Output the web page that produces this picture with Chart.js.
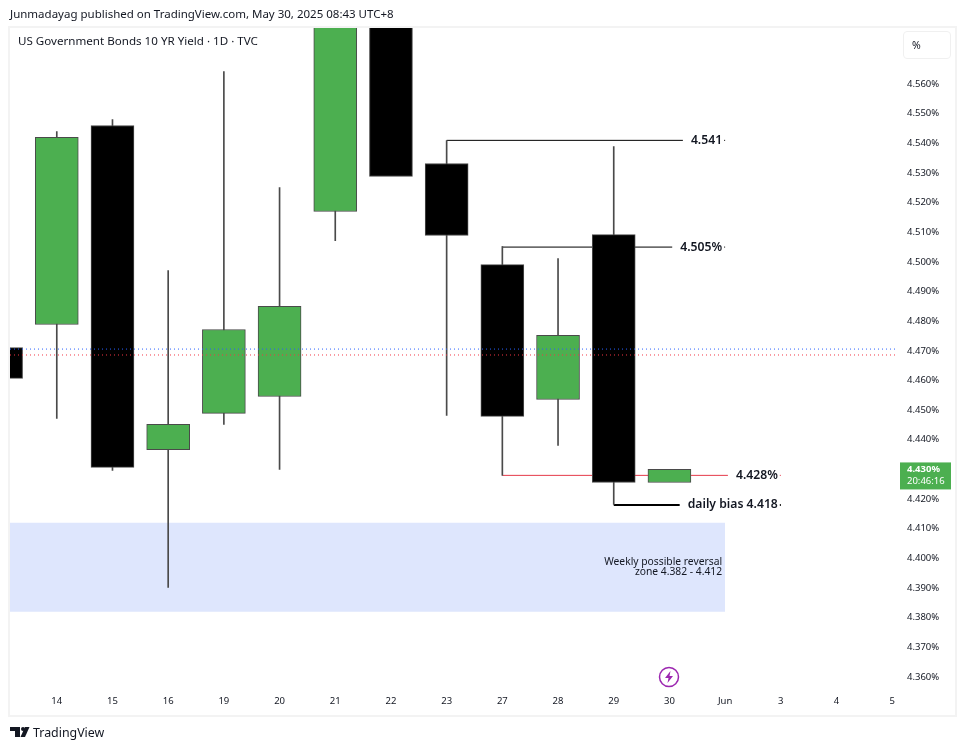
<!DOCTYPE html>
<html lang="en">
<head>
  <meta charset="UTF-8">
  <title>US Government Bonds 10 YR Yield</title>
  <style>
    body { margin: 0; background: #fff; color: #131722; font-family: 'Noto Sans', sans-serif; }
    #page { position: relative; width: 965px; height: 750px; overflow: hidden; }
    #panel { position: absolute; left: 8px; top: 26px; width: 945px; height: 687px; border: 2px solid #f3f3f3; }
    canvas { position: absolute; left: 0; top: 0; }
    .note { position: absolute; white-space: nowrap; }
    #published { left: 10px; top: 6px; font-size: 11.5px; }
    #title { left: 18px; top: 33px; font-size: 11.6px; }
    #unit { position: absolute; left: 903px; top: 31px; width: 46px; height: 26px; border: 1px solid #f0f0f0; border-radius: 4px; font-size: 10.5px; line-height: 26px; text-indent: 8px; }
    #brand { left: 33px; top: 724px; font-size: 12.4px; }
    #logo { position: absolute; left: 10px; top: 726px; }
    #bolt { position: absolute; left: 658px; top: 666px; }
  </style>
  <script src="https://cdn.jsdelivr.net/npm/chart.js"></script>
</head>
<body>
  <div id="page">
    <div id="panel"></div>
    <canvas id="yieldChart" width="965" height="750"></canvas>
    <div class="note" id="published">Junmadayag published on TradingView.com, May 30, 2025 08:43 UTC+8</div>
    <div class="note" id="title">US Government Bonds 10 YR Yield · 1D · TVC</div>
    <div id="unit">%</div>
    <svg id="bolt" width="22" height="22" viewBox="0 0 22 22">
      <circle cx="11" cy="11" r="9.5" fill="#fff" stroke="#9c27b0" stroke-width="1.5"/>
      <path d="M12.5 5 L7 12 H10.5 L9.5 17 L15 10 H11.5 Z" fill="#9c27b0"/>
    </svg>
    <svg id="logo" width="20" height="12" viewBox="0 0 20 12">
      <path d="M0 1 H10 V11 H5 V5 H0 Z" fill="#131722"/>
      <circle cx="13" cy="3" r="2" fill="#131722"/>
      <path d="M15 1 H19.5 L15 11 H10.5 Z" fill="#131722"/>
    </svg>
    <div class="note" id="brand">TradingView</div>
  </div>

  <script>
    // Index 0 is the 13th, cut off by the left edge of the panel
    const dayLabels = ['13', '14', '15', '16', '19', '20', '21', '22', '23', '27', '28', '29', '30', 'Jun', '3', '4', '5'];

    const opens =  [4.4711, 4.4789, 4.5460, 4.4367, 4.4489, 4.4546, 4.5170, 4.6100, 4.5332, 4.4991, 4.4536, 4.5092, 4.4256];
    const highs =  [4.4705, 4.5440, 4.5480, 4.4971, 4.5642, 4.5251, 4.6100, 4.6100, 4.5409, 4.5052, 4.5011, 4.5389, 4.4295];
    const lows =   [4.4612, 4.4472, 4.4297, 4.3902, 4.4452, 4.4300, 4.5072, 4.5295, 4.4482, 4.4280, 4.4381, 4.4182, 4.4261];
    const closes = [4.4607, 4.5420, 4.4307, 4.4452, 4.4772, 4.4850, 4.6100, 4.5288, 4.5089, 4.4479, 4.4752, 4.4256, 4.4300];

    const yTicks = [4.36, 4.37, 4.38, 4.39, 4.40, 4.41, 4.42, 4.43, 4.44, 4.45, 4.46, 4.47, 4.48, 4.49, 4.50, 4.51, 4.52, 4.53, 4.54, 4.55, 4.56];

    const zoneLow = 4.382;
    const zoneHigh = 4.412;
    const zoneEnd = 13;

    const bidPrice = 4.4706;
    const askPrice = 4.4686;
    const lastPrice = 4.43;
    const lastLabel = '4.430%';
    const countdown = '20:46:16';

    const levelValues = [4.541, 4.505, 4.428, 4.418];
    const levelStarts = [8, 9, 9, 11];
    const levelEnds = [13, 13, 14, 14];
    const levelColors = ['#000000', '#000000', '#e5394a', '#000000'];
    const levelWidths = [1, 1, 1, 2];
    const levelTexts = ['4.541', '4.505%', '4.428%', 'daily bias 4.418'];

    const xMin = 0.16;
    const xMax = 16.086;
    const yMin = 4.3556;
    const yMax = 4.5789;

    const upColor = '#4caf50';
    const downColor = '#000000';
    const edgeColor = '#4a4a4a';

    const days = opens.map((_, i) => i);
    const candleColors = days.map((i) => (closes[i] >= opens[i] ? upColor : downColor));

    const levelSets = levelValues.map((value, i) => ({
      type: 'line',
      order: 3,
      data: [{ x: levelStarts[i], y: value }, { x: levelEnds[i], y: value }],
      borderColor: levelColors[i],
      borderWidth: levelWidths[i],
      pointRadius: 0
    }));

    const makePriceLine = (value, color) => ({
      type: 'line',
      order: 0,
      data: [{ x: xMin, y: value }, { x: xMax, y: value }],
      borderColor: color,
      borderWidth: 1,
      borderDash: [1, 3],
      pointRadius: 0
    });

    // Level captions sit on their line with a white gap, price tag on the axis
    const captionPlugin = {
      id: 'captions',
      afterDraw(chart) {
        const { ctx, scales } = chart;
        ctx.save();
        ctx.textBaseline = 'middle';
        ctx.textAlign = 'right';
        ctx.font = "600 12.2px 'Noto Sans'";
        levelTexts.forEach((text, i) => {
          const right = scales.x.getPixelForValue(levelEnds[i]) - 3;
          const y = scales.y.getPixelForValue(levelValues[i]);
          const w = ctx.measureText(text).width;
          ctx.fillStyle = '#fff';
          ctx.fillRect(right - w - 8, y - 8, w + 10, 16);
          ctx.fillStyle = '#131722';
          ctx.fillText(text, right, y);
        });

        const zoneRight = scales.x.getPixelForValue(zoneEnd) - 3;
        const zoneMid = scales.y.getPixelForValue((zoneLow + zoneHigh) / 2);
        ctx.font = "10.3px 'Noto Sans'";
        ctx.fillText('Weekly possible reversal', zoneRight, zoneMid - 5);
        ctx.fillText('zone ' + zoneLow + ' - ' + zoneHigh, zoneRight, zoneMid + 5);

        const tagY = scales.y.getPixelForValue(lastPrice);
        ctx.fillStyle = upColor;
        ctx.fillRect(900, tagY - 7, 51, 27);
        ctx.textAlign = 'left';
        ctx.font = "bold 9.5px 'Noto Sans'";
        ctx.fillStyle = '#fff';
        ctx.fillText(lastLabel, 907, tagY);
        ctx.font = "9.5px 'Noto Sans'";
        ctx.fillText(countdown, 907, tagY + 12);
        ctx.restore();
      }
    };

    new Chart(document.getElementById('yieldChart'), {
      data: {
        datasets: [
          {
            type: 'line',
            order: 5,
            data: [{ x: xMin, y: zoneHigh }, { x: zoneEnd, y: zoneHigh }],
            borderWidth: 0,
            pointRadius: 0,
            backgroundColor: '#dee6fd',
            fill: { target: { value: zoneLow } }
          },
          ...levelSets,
          makePriceLine(bidPrice, '#2962ff'),
          makePriceLine(askPrice, '#f23645'),
          {
            type: 'bar',
            order: 2,
            data: days.map((i) => ({ x: i, y: [lows[i], highs[i]] })),
            backgroundColor: edgeColor,
            barThickness: 1,
            grouped: false
          },
          {
            type: 'bar',
            order: 1,
            data: days.map((i) => ({ x: i, y: [opens[i], closes[i]] })),
            backgroundColor: candleColors,
            borderColor: edgeColor,
            borderWidth: 1,
            borderSkipped: false,
            barThickness: 43,
            grouped: false
          }
        ]
      },
      plugins: [captionPlugin],
      options: {
        responsive: false,
        animation: false,
        layout: { padding: { left: 10, top: 28, right: 10, bottom: 36 } },
        plugins: { legend: { display: false }, tooltip: { enabled: false } },
        scales: {
          x: {
            type: 'linear',
            offset: false,
            min: xMin,
            max: xMax,
            grid: { display: false, drawTicks: false },
            border: { display: false },
            afterBuildTicks: (axis) => { axis.ticks = dayLabels.map((_, i) => ({ value: i })).slice(1); },
            afterFit: (axis) => { axis.height = 24; },
            ticks: {
              autoSkip: false,
              maxRotation: 0,
              padding: 6,
              color: '#131722',
              font: { family: 'Noto Sans', size: 9.5 },
              callback: (value) => dayLabels[value]
            }
          },
          y: {
            position: 'right',
            min: yMin,
            max: yMax,
            grid: { display: false, drawTicks: false },
            border: { display: false },
            afterBuildTicks: (axis) => { axis.ticks = yTicks.map((value) => ({ value })); },
            afterFit: (axis) => { axis.width = 58; },
            ticks: {
              autoSkip: false,
              padding: 10,
              color: '#131722',
              font: { family: 'Noto Sans', size: 9.5 },
              callback: (value) => value.toFixed(3) + '%'
            }
          }
        }
      }
    });
  </script>
</body>
</html>
